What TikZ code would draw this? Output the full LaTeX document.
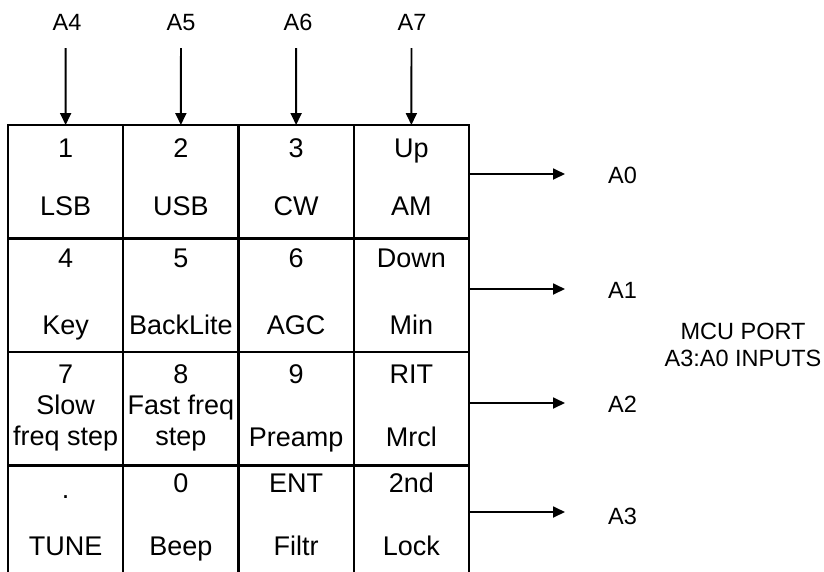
\documentclass[tikz,border=0pt]{standalone}
\usepackage{fontspec}
\setmainfont{Liberation Sans}
\usetikzlibrary{arrows.meta,calc}
\begin{document}
\begin{tikzpicture}[x=1pt,y=-1pt,
  cell/.style={draw,line width=2.2pt,minimum width=115.25pt,minimum height=113.5pt,inner sep=0pt,outer sep=0pt},
  key/.style={font=\fontsize{27}{30.5}\selectfont,inner sep=0pt,text height=19.3pt,text depth=0pt},
  keytwo/.style={font=\fontsize{27}{30.5}\selectfont,align=center,inner sep=0pt},
  lab/.style={font=\fontsize{23.5}{27}\selectfont,inner sep=0pt,text height=16.8pt,text depth=0pt},
  labtwo/.style={font=\fontsize{23.5}{27}\selectfont,align=center,inner sep=0pt},
  arr/.style={line width=1.8pt,-{Triangle[length=12pt,width=11pt]}}]
\useasboundingbox (0,0) rectangle (824,571);

% cells
\foreach \r in {1,...,4}{
  \foreach \c in {1,...,4}{
    \node[cell] (c-\r-\c) at ({8+115.25*(\c-0.5)},{125+113.5*(\r-0.5)}) {};
  }
}

% text row heights
\coordinate (r1t) at (0,148);
\coordinate (r1b) at (0,206);
\coordinate (r2t) at (0,258);
\coordinate (r2b) at (0,325);
\coordinate (r3t) at (0,374);
\coordinate (r3m) at (0,423);
\coordinate (r3b) at (0,437);
\coordinate (r4t) at (0,483);
\coordinate (r4b) at (0,546);

% row 1
\node[key] (k1t) at (c-1-1 |- r1t) {1};
\node[key] (k1b) at (c-1-1 |- r1b) {LSB};
\node[key] (k2t) at (c-1-2 |- r1t) {2};
\node[key] (k2b) at (c-1-2 |- r1b) {USB};
\node[key] (k3t) at (c-1-3 |- r1t) {3};
\node[key] (k3b) at (c-1-3 |- r1b) {CW};
\node[key] (kUpt) at (c-1-4 |- r1t) {Up};
\node[key] (kUpb) at (c-1-4 |- r1b) {AM};
% row 2
\node[key] (k4t) at (c-2-1 |- r2t) {4};
\node[key] (k4b) at (c-2-1 |- r2b) {Key};
\node[key] (k5t) at (c-2-2 |- r2t) {5};
\node[key] (k5b) at (c-2-2 |- r2b) {BackLite};
\node[key] (k6t) at (c-2-3 |- r2t) {6};
\node[key] (k6b) at (c-2-3 |- r2b) {AGC};
\node[key] (kDnt) at (c-2-4 |- r2t) {Down};
\node[key] (kDnb) at (c-2-4 |- r2b) {Min};
% row 3
\node[key] (k7t) at (c-3-1 |- r3t) {7};
\node[keytwo] (k7b) at (c-3-1 |- r3m) {Slow\\freq step};
\node[key] (k8t) at (c-3-2 |- r3t) {8};
\node[keytwo] (k8b) at (c-3-2 |- r3m) {Fast freq\\step};
\node[key] (k9t) at (c-3-3 |- r3t) {9};
\node[key] (k9b) at (c-3-3 |- r3b) {Preamp};
\node[key] (kRt) at (c-3-4 |- r3t) {RIT};
\node[key] (kRb) at (c-3-4 |- r3b) {Mrcl};
% row 4
\node[key] (kdt) at ($(c-4-1 |- r4t)+(0,6)$) {.};
\node[key] (kdb) at (c-4-1 |- r4b) {TUNE};
\node[key] (k0t) at (c-4-2 |- r4t) {0};
\node[key] (k0b) at (c-4-2 |- r4b) {Beep};
\node[key] (kEt) at (c-4-3 |- r4t) {ENT};
\node[key] (kEb) at (c-4-3 |- r4b) {Filtr};
\node[key] (kSt) at (c-4-4 |- r4t) {2nd};
\node[key] (kSb) at (c-4-4 |- r4b) {Lock};

% top labels and arrows
\node[lab] (A4) at (67,22) {A4};
\node[lab] (A5) at (181,22) {A5};
\node[lab] (A6) at (298,22) {A6};
\node[lab] (A7) at (412,22) {A7};
\coordinate (s4) at (65.6,48);
\coordinate (s5) at (180.9,48);
\coordinate (s6) at (296.1,48);
\coordinate (s7) at (411.4,48);
\draw[arr] (s4) -- (c-1-1.north);
\draw[arr] (s5) -- (c-1-2.north);
\draw[arr] (s6) -- (c-1-3.north);
\draw[arr] (s7) -- (c-1-4.north);

% right arrows and labels
\coordinate (e0) at (565,174);
\coordinate (e1) at (565,289);
\coordinate (e2) at (565,403);
\coordinate (e3) at (565,512);
\draw[arr] (c-1-4.east |- e0) -- (e0);
\draw[arr] (c-2-4.east |- e1) -- (e1);
\draw[arr] (c-3-4.east |- e2) -- (e2);
\draw[arr] (c-4-4.east |- e3) -- (e3);
\node[lab,anchor=west] (A0) at (608,175) {A0};
\node[lab,anchor=west] (A1) at (608,290) {A1};
\node[lab,anchor=west] (A2) at (608,404) {A2};
\node[lab,anchor=west] (A3) at (608,516) {A3};

\node[labtwo] (mcu) at (743,345) {MCU PORT\\A3:A0 INPUTS};
\end{tikzpicture}
\end{document}
